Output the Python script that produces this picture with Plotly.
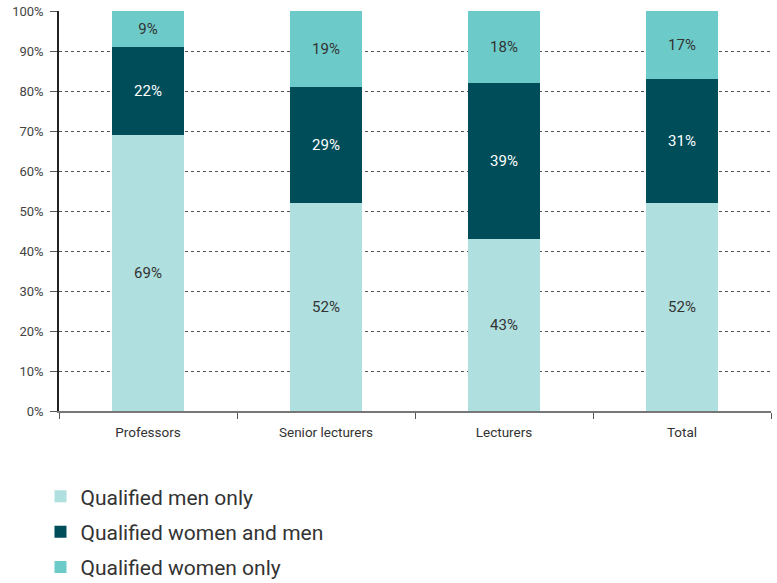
import plotly.graph_objects as go

categories = ["Professors", "Senior lecturers", "Lecturers", "Total"]
men_only = [69, 52, 43, 52]
women_and_men = [22, 29, 39, 31]
women_only = [9, 19, 18, 17]

series = [
    ("Qualified men only", men_only, "#b0dfdf", "#333333"),
    ("Qualified women and men", women_and_men, "#004d5a", "#ffffff"),
    ("Qualified women only", women_only, "#6ccbc9", "#333333"),
]

fig = go.Figure()
for i, (name, vals, color, tcolor) in enumerate(series):
    fig.add_trace(go.Bar(
        x=categories, y=vals, name=name,
        marker=dict(color=color, line=dict(width=0)),
        text=[f"{v}%" for v in vals], textposition="inside",
        insidetextanchor="middle",
        textfont=dict(size=15, color=tcolor, family="Roboto"),
        legendgroup=f"g{i}",
    ))

fig.update_layout(
    width=777, height=583,
    barmode="stack", bargap=0.595,
    margin=dict(l=59, r=6, t=11, b=172, autoexpand=False),
    plot_bgcolor="white", paper_bgcolor="white",
    font=dict(family="Roboto", color="#333333"),
    showlegend=True,
    legend=dict(
        orientation="v", x=-0.026, xanchor="left", y=-0.163, yanchor="top",
        font=dict(size=21, color="#333333", family="Roboto"),
        traceorder="grouped", tracegroupgap=5,
        itemsizing="constant",
    ),
    uniformtext=dict(mode="show", minsize=10),
)

fig.update_xaxes(
    type="category", tickson="boundaries",
    ticks="outside", ticklen=6, tickcolor="#555555",
    showline=True, linecolor="#777777", linewidth=1.5,
    showgrid=False, ticklabelstandoff=8,
    tickfont=dict(size=13.5, color="#333333"),
)
fig.update_yaxes(
    range=[0, 100], dtick=10, ticksuffix="%",
    showline=True, linecolor="#222222", linewidth=1.5,
    ticks="outside", ticklen=7, tickcolor="#555555",
    showgrid=True, gridcolor="#555555", griddash="dot", gridwidth=1,
    tickfont=dict(size=13, color="#444444"), ticklabelstandoff=4,
    zeroline=False,
)

fig.write_html("out.html")
